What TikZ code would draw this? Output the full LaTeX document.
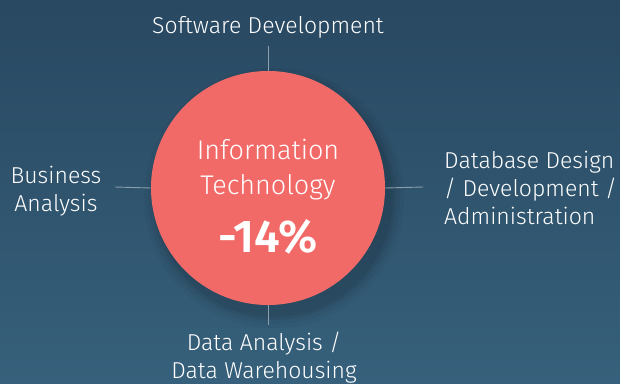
\documentclass[tikz,border=0pt]{standalone}
\usepackage{fontspec}
\setmainfont{Fira Sans Light}[BoldFont={Fira Sans SemiBold}]
\usetikzlibrary{positioning}

\definecolor{bgtop}{HTML}{294861}
\definecolor{bgbot}{HTML}{36607B}
\definecolor{coral}{HTML}{F26A68}
\definecolor{spoke}{HTML}{8C9DAB}

\tikzset{
  label/.style={text=white, align=center, inner sep=0pt, font=\fontsize{23}{28}\selectfont},
  spoke/.style={draw=spoke, line width=0.9pt}
}

\begin{document}
\begin{tikzpicture}[x=1pt,y=-1pt]
  \useasboundingbox (0,0) rectangle (620,383);
  \shade[top color=bgtop, bottom color=bgbot] (0,0) rectangle (620,383);
  % soft shadow under the disc
  \foreach \r/\o in {130/0.03,126/0.04,122/0.05,119/0.06}
    \fill[black, opacity=\o] (274,198) circle (\r);
  \node (it) [circle, fill=coral, minimum size=234pt, inner sep=0pt] at (268,188) {};
  \node (name) [label, font=\fontsize{27}{35}\selectfont] at (268,170) {Information\\Technology};
  \node (pct) [text=white, inner sep=0pt, font=\fontsize{46}{48}\selectfont\bfseries] at (268,237) {-14\%};
  % labels around the disc
  \node (sw) [label] at (268,27) {Software Development};
  \node (ba) [label] at (56,191) {Business\\Analysis};
  \node (db) [label, align=left, anchor=west] at (444,188) {Database Design\\/ Development /\\Administration};
  \node (da) [label] at (264,358) {Data Analysis /\\Data Warehousing};
  % spokes
  \coordinate (swend) at (268,46);
  \coordinate (baend) at (115,187);
  \coordinate (dbend) at (423,187);
  \coordinate (daend) at (268,325);
  \draw[spoke] (it.north) -- (swend);
  \draw[spoke] (it.west) -- (baend);
  \draw[spoke] (it.east) -- (dbend);
  \draw[spoke] (it.south) -- (daend);
\end{tikzpicture}
\end{document}
